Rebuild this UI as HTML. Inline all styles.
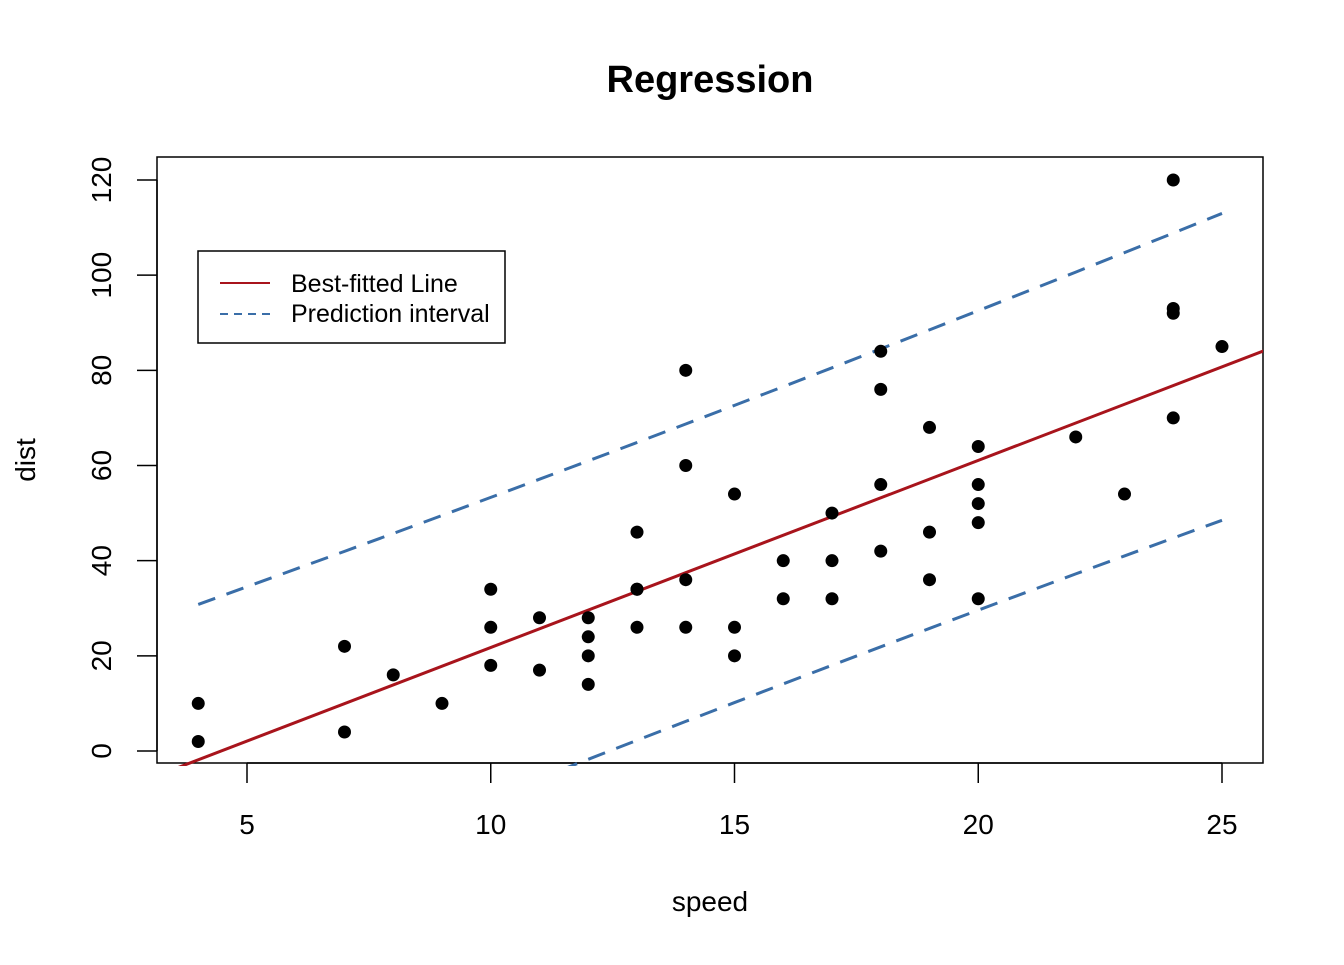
<!DOCTYPE html>
<html><head><meta charset="utf-8"><style>
body{margin:0;background:#fff}
svg text{font-family:"Liberation Sans",Arial,sans-serif}
</style></head><body>
<svg id="chart" width="1344" height="960" xmlns="http://www.w3.org/2000/svg">
<defs><clipPath id="clip"><rect x="157" y="157" width="1106" height="609"/></clipPath></defs>
<text x="710" y="92" text-anchor="middle" font-size="38" font-weight="bold">Regression</text>
<rect x="157" y="157" width="1106" height="606" fill="none" stroke="#000" stroke-width="1.5"/>
<text x="710" y="911" text-anchor="middle" font-size="28">speed</text>
<text transform="translate(35,460) rotate(-90)" text-anchor="middle" font-size="28">dist</text>
<g id="axes"></g>
<g id="lines" clip-path="url(#clip)"></g>
<g id="points"></g>
<g>
<rect x="198" y="251" width="307" height="92" fill="#fff" stroke="#000" stroke-width="1.5"/>
<line x1="220" y1="283" x2="270" y2="283" stroke="#a8141c" stroke-width="2"/>
<line x1="220" y1="314" x2="270" y2="314" stroke="#3a6ea8" stroke-width="2" stroke-dasharray="8,6"/>
<text x="291" y="292" font-size="25">Best-fitted Line</text>
<text x="291" y="322" font-size="25">Prediction interval</text>
</g>
</svg>
<script>
const speed=[4,4,7,7,8,9,10,10,10,11,11,12,12,12,12,13,13,13,13,14,14,14,14,15,15,15,16,16,17,17,17,18,18,18,18,19,19,19,20,20,20,20,20,22,23,24,24,24,24,25];
const dist=[2,10,4,22,16,10,18,26,34,17,28,14,20,24,28,26,34,34,46,26,36,60,80,20,26,54,32,40,32,40,50,42,56,76,84,36,46,68,32,48,52,56,64,66,54,70,92,93,120,85];
const xTicks=[5,10,15,20,25];
const yTicks=[0,20,40,60,80,100,120];
const NS="http://www.w3.org/2000/svg";
const X=v=>247+(v-5)*48.75;
const Y=v=>751-v*4.7583;
function mk(tag,attrs,parent){const e=document.createElementNS(NS,tag);for(const k in attrs)e.setAttribute(k,attrs[k]);parent.appendChild(e);return e;}
const axes=document.getElementById('axes');
mk('line',{x1:X(5),x2:X(25),y1:763,y2:763,stroke:'#000','stroke-width':1.5},axes);
xTicks.forEach(t=>{
 const l=mk('line',{x1:X(t),x2:X(t),y1:763,y2:783,stroke:'#000','stroke-width':1.5},axes);
 
 
 const tx=mk('text',{x:X(t),y:834,'text-anchor':'middle','font-size':28},axes);tx.textContent=t;
 
 
});
mk('line',{x1:157,x2:157,y1:Y(0),y2:Y(120),stroke:'#000','stroke-width':1.5},axes);
yTicks.forEach(t=>{
 const l=mk('line',{x1:137,x2:157,y1:Y(t),y2:Y(t),stroke:'#000','stroke-width':1.5},axes);
 
 
 const tx=mk('text',{transform:`translate(111,${Y(t)}) rotate(-90)`,'text-anchor':'middle','font-size':28},axes);tx.textContent=t;
 
 
});
const n=speed.length,mx=speed.reduce((a,b)=>a+b)/n,my=dist.reduce((a,b)=>a+b)/n;
let sxx=0,sxy=0;for(let i=0;i<n;i++){sxx+=(speed[i]-mx)**2;sxy+=(speed[i]-mx)*(dist[i]-my);}
const b=sxy/sxx,a=my-b*mx;
let sse=0;for(let i=0;i<n;i++)sse+=(dist[i]-a-b*speed[i])**2;
const s=Math.sqrt(sse/(n-2)),tq=2.0106;
const lines=document.getElementById('lines');
const fit=mk('line',{x1:X(3),y1:Y(a+b*3),x2:X(27),y2:Y(a+b*27),stroke:'#a8141c','stroke-width':3},lines);


const xs=[...new Set(speed)].sort((p,q)=>p-q);
[1,-1].forEach(sg=>{
 const pts=xs.map(x=>{const se=s*Math.sqrt(1+1/n+(x-mx)**2/sxx);return X(x)+','+Y(a+b*x+sg*tq*se);}).join(' ');
 const p=mk('polyline',{points:pts,fill:'none',stroke:'#3a6ea8','stroke-width':3,'stroke-dasharray':'18,12'},lines);
 
 
});
const pg=document.getElementById('points');
for(let i=0;i<n;i++){
 const c=mk('circle',{cx:X(speed[i]),cy:Y(dist[i]),r:6.5,fill:'#000'},pg);
 
 
}
</script>
</body></html>
